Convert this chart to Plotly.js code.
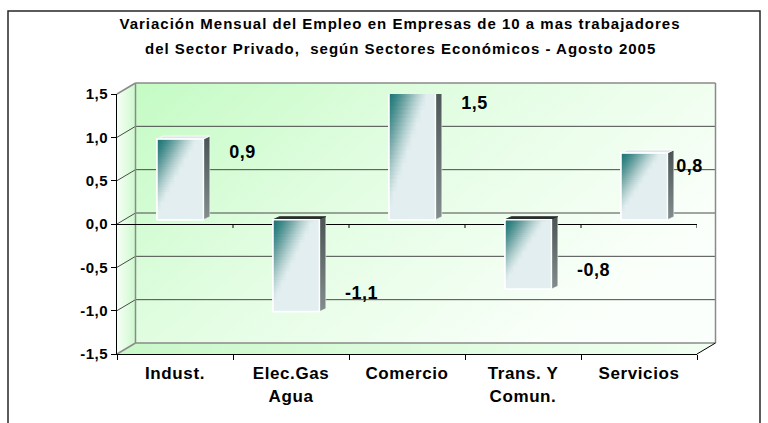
<!DOCTYPE html>
<html><head><meta charset="utf-8">
<script src="https://cdn.plot.ly/plotly-3.0.1.min.js"></script>
<style>
html,body{margin:0;padding:0;background:#fff;overflow:hidden}
#chart{width:768px;height:423px}
#chart .gtitle{letter-spacing:1px}
#chart .xtick text{letter-spacing:0.6px}
#chart .ytick text{letter-spacing:0.5px}
#chart .annotation-text.val{letter-spacing:0.5px}
#chart .annotation-text.sub{letter-spacing:1px}
</style>
</head><body><div id="chart"></div>
<script>
// ---------------- data ----------------
const categories = ['Indust.', 'Elec.Gas Agua', 'Comercio', 'Trans. Y Comun.', 'Servicios'];
const tickLabels = ['Indust.', 'Elec.Gas<br>Agua', 'Comercio', 'Trans. Y<br>Comun.', 'Servicios'];
const values = [0.93, -1.06, 1.50, -0.80, 0.77];
const yTickValues = [-1.5, -1.0, -0.5, 0, 0.5, 1.0, 1.5];
const titleLines = ['Variación Mensual del Empleo en Empresas de 10 a mas trabajadores',
                    'del Sector Privado,  según Sectores Económicos - Agosto 2005'];

// ---------------- geometry & style ----------------
const W = 768, H = 423, PL = 117, PR = 697, PT = 94, PB = 354;
const DX = 18.5, DY = 11;                 // 3-D depth of the walls (px)
const BAR_W = 0.40, OFF_X = 0.045, BASE = 0.05, SDX = 0.055, SDY = 0.035, NB = 32;
const FONT = 'Liberation Sans, Arial, sans-serif';
const YMIN = -1.5, YMAX = 1.5;

function P(px, py) { return { x: (px - PL) / (PR - PL), y: (PB - py) / (PB - PT) }; }
function yPx(v) { return PB - (v - YMIN) / (YMAX - YMIN) * (PB - PT); }

const stops = [[0, [24, 112, 112]], [0.25, [58, 136, 136]], [0.5, [118, 168, 168]], [0.75, [178, 207, 207]], [1, [226, 238, 239]]];
function grad(s) {
  s = Math.max(0, Math.min(1, s));
  for (let k = 1; k < stops.length; k++) {
    if (s <= stops[k][0]) {
      const a = stops[k - 1], b = stops[k], t = (s - a[0]) / (b[0] - a[0]);
      return 'rgb(' + a[1].map((c, j) => Math.round(c + (b[1][j] - c) * t)).join(',') + ')';
    }
  }
  return 'rgb(226,238,239)';
}

// ---------------- traces ----------------
const traces = [];
traces.push({
  type: 'bar', x: categories, y: values, base: BASE, width: BAR_W, offset: -BAR_W / 2 + OFF_X,
  marker: { color: '#c4dcdc', line: { color: '#ffffff', width: 1.5 } },
  hoverinfo: 'x+y', showlegend: false
});

values.forEach((v, i) => {
  const xL = i + OFF_X - BAR_W / 2, xR = i + OFF_X + BAR_W / 2;
  const yT = BASE + Math.max(0, v), yB = BASE + Math.min(0, v);
  const hgt = yT - yB;
  // front face: diagonal gradient built from thin horizontal bands
  for (let k = 0; k < NB; k++) {
    const a = yT - hgt * k / NB, b = Math.max(yB, yT - hgt * (k + 1) / NB - hgt * 0.012);
    const vv = (k + 0.5) / NB;
    const cs = [0, 0.1, 0.2, 0.3, 0.4, 0.5, 0.6, 0.7, 0.8, 0.9, 1].map(u => [u, grad(u / 0.85 + vv / 0.9)]);
    traces.push({
      type: 'scatter', xaxis: 'x2', yaxis: 'y', mode: 'none', fill: 'toself',
      x: [xL, xR, xR, xL, xL], y: [a, a, b, b, a],
      fillgradient: { type: 'horizontal', colorscale: cs, start: xL, stop: xR },
      hoverinfo: 'skip', showlegend: false
    });
  }
  // side face
  traces.push({
    type: 'scatter', xaxis: 'x2', yaxis: 'y', mode: 'lines', fill: 'toself',
    x: [xR, xR + SDX, xR + SDX, xR, xR], y: [yT, yT + SDY, yB + SDY, yB, yT],
    line: { color: 'rgba(255,255,255,0.6)', width: 0.8 },
    fillgradient: { type: 'vertical', colorscale: [[0, '#848d8d'], [1, '#4a5454']] },
    hoverinfo: 'skip', showlegend: false
  });
  // top face
  traces.push({
    type: 'scatter', xaxis: 'x2', yaxis: 'y', mode: 'lines', fill: 'toself',
    x: [xL, xR, xR + SDX, xL + SDX, xL], y: [yT, yT, yT + SDY, yT + SDY, yT],
    line: { color: v > 0 ? '#ffffff' : '#222222', width: 0.8 },
    fillcolor: v > 0 ? '#dfe7e7' : '#2a3030',
    hoverinfo: 'skip', showlegend: false
  });
  // white outline of the front face
  traces.push({
    type: 'scatter', xaxis: 'x2', yaxis: 'y', mode: 'lines',
    x: [xL, xL, xR, xR, xL], y: [yB, yT, yT, yB, yB],
    line: { color: '#ffffff', width: 1.5 }, hoverinfo: 'skip', showlegend: false
  });
});

// ---------------- walls (decoration) ----------------
const wallW = PR - PL + DX, wallH = PB - PT + DY, backH = PB - PT;
const svg = `<svg xmlns='http://www.w3.org/2000/svg' width='${wallW}' height='${wallH}' viewBox='0 0 ${wallW} ${wallH}' preserveAspectRatio='none'>
<defs>
<linearGradient id='b' x1='0' y1='0' x2='1' y2='0.55'><stop offset='0' stop-color='#c4fbc4'/><stop offset='0.45' stop-color='#e2fde2'/><stop offset='1' stop-color='#fbfffb'/></linearGradient>
<linearGradient id='l' x1='0' y1='0' x2='1' y2='0'><stop offset='0' stop-color='#f6fff6'/><stop offset='1' stop-color='#cdf9cd'/></linearGradient>
<linearGradient id='f' x1='0' y1='0' x2='1' y2='0'><stop offset='0' stop-color='#c8f8c8'/><stop offset='1' stop-color='#f2fff2'/></linearGradient>
</defs>
<rect x='${DX}' y='0' width='${wallW - DX}' height='${backH}' fill='url(#b)'/>
<polygon points='0,${DY} ${DX},0 ${DX},${backH} 0,${wallH}' fill='url(#l)'/>
<polygon points='0,${wallH} ${DX},${backH} ${wallW},${backH} ${wallW - DX},${wallH}' fill='url(#f)'/>
</svg>`;
const wallImg = 'data:image/svg+xml;charset=utf-8,' + encodeURIComponent(svg);

const shapes = [];
function seg(p1, p2, color, width, layer) {
  const a = P(p1[0], p1[1]), b = P(p2[0], p2[1]);
  shapes.push({ type: 'line', xref: 'paper', yref: 'paper', x0: a.x, y0: a.y, x1: b.x, y1: b.y,
    line: { color: color, width: width }, layer: layer || 'below' });
}
yTickValues.forEach(t => {
  const fy = yPx(t);
  const edge = (t === YMIN || t === YMAX);
  const col = edge ? '#8a8a8a' : '#4a4a4a', w = edge ? 1.5 : 1;
  seg([PL, fy], [PL + DX, fy - DY], col, w);
  seg([PL + DX, fy - DY], [PR + DX, fy - DY], col, w);
});
seg([PL + DX, PT - DY], [PL + DX, PB - DY], '#8a8a8a', 1.5);
seg([PR + DX, PT - DY], [PR + DX, PB - DY], '#8a8a8a', 1.5);
seg([PR, PB], [PR + DX, PB - DY], '#000000', 1, 'above');
// zero-line category ticks
for (let i = 1; i <= categories.length; i++) {
  shapes.push({ type: 'line', xref: 'x2', yref: 'y', ysizemode: 'pixel', yanchor: 0,
    x0: i - 0.5, x1: i - 0.5, y0: 0, y1: -4, line: { color: '#000', width: 1 }, layer: 'above' });
}
// outer chart-area border
const b0 = P(8, 11), b1 = P(760, 445);
shapes.push({ type: 'rect', xref: 'paper', yref: 'paper', x0: b0.x, y0: b1.y, x1: b1.x, y1: b0.y,
  line: { color: '#262626', width: 1.5 }, fillcolor: 'rgba(0,0,0,0)', layer: 'above' });

// ---------------- annotations ----------------
const PXU = (YMAX - YMIN) / (PB - PT);   // data units per pixel
const annotations = values.map((v, i) => ({
  xref: 'x2', yref: 'y', x: Math.min(i + OFF_X + BAR_W / 2 + SDX + 0.157, 4.31),
  y: BASE + v + (v > 0 ? -13 : 19) * PXU,
  xanchor: 'left', yanchor: 'middle', 
  text: v.toFixed(1).replace('.', ','), showarrow: false,
  font: { family: FONT, size: 18, weight: 'bold', color: '#000' }
}));
const t2 = P(400, 49);
annotations.push({ xref: 'paper', yref: 'paper', x: t2.x, y: t2.y, xanchor: 'center', yanchor: 'middle',
  text: titleLines[1], showarrow: false, font: { family: FONT, size: 15, weight: 'bold', color: '#000' } });

const layout = {
  width: W, height: H,
  margin: { l: PL, r: W - PR, t: PT, b: H - PB, pad: 0 },
  paper_bgcolor: '#ffffff', plot_bgcolor: 'rgba(0,0,0,0)',
  font: { family: FONT, color: '#000' },
  title: { text: titleLines[0], font: { family: FONT, size: 15, weight: 'bold', color: '#000' },
    xref: 'container', yref: 'container', x: 400 / W, y: 1 - 24 / H, xanchor: 'center', yanchor: 'middle' },
  showlegend: false,
  bargap: 0,
  xaxis: {
    type: 'category', range: [-0.5, categories.length - 0.5], tickmode: 'array',
    tickvals: categories, ticktext: tickLabels, tickson: 'boundaries',
    ticks: 'outside', ticklen: 5, tickcolor: '#000', showline: true, linecolor: '#000', linewidth: 1,
    showgrid: false, zeroline: false, ticklabelstandoff: 4,
    tickfont: { family: FONT, size: 17, weight: 'bold', color: '#000' }, fixedrange: true
  },
  xaxis2: { overlaying: 'x', range: [-0.5, categories.length - 0.5], visible: false, fixedrange: true },
  yaxis: {
    range: [YMIN, YMAX], tickmode: 'array', tickvals: yTickValues,
    ticktext: yTickValues.map(t => t.toFixed(1).replace('.', ',')),
    ticks: 'outside', ticklen: 5, tickcolor: '#000', showline: true, linecolor: '#000', linewidth: 1,
    showgrid: false, zeroline: true, zerolinecolor: '#000', zerolinewidth: 1,
    tickfont: { family: FONT, size: 15, weight: 'bold', color: '#000' }, fixedrange: true
  },
  images: [{ source: wallImg, xref: 'paper', yref: 'paper', x: 0, y: wallH / (PB - PT),
    sizex: wallW / (PR - PL), sizey: wallH / (PB - PT), xanchor: 'left', yanchor: 'top',
    sizing: 'stretch', layer: 'below' }],
  shapes: shapes,
  annotations: annotations
};

Plotly.newPlot('chart', traces, layout, { displayModeBar: false, staticPlot: true }).then(gd => {
  const txt = gd.querySelectorAll('.annotation-text');
  txt.forEach((t, i) => t.classList.add(i < values.length ? 'val' : 'sub'));
});
</script></body></html>
